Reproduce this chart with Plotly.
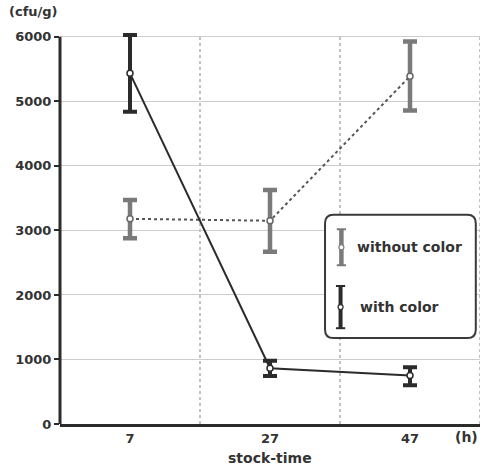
import plotly.graph_objects as go

# ---- data ----
stock_time = [7, 27, 47]
without_mean = [3180, 3150, 5390]
without_hi = [3470, 3625, 5930]
without_lo = [2880, 2670, 4860]
with_mean = [5435, 865, 750]
with_hi = [6030, 980, 880]
with_lo = [4840, 745, 600]
y_ticks = [0, 1000, 2000, 3000, 4000, 5000, 6000]
x_ticks = [7, 27, 47]
x_divisions = [17, 37, 57]
series_names = ["without color", "with color"]

FONT = "DejaVu Sans"
DARK = "#2b2b2b"
GRAY = "#7a7a7a"
TXT = "#333333"

Y_TOP = 6060  # a little headroom so the top error cap is not clipped

fig = go.Figure()

fig.add_trace(go.Scatter(
    x=stock_time, y=without_mean, mode="lines+markers", name=series_names[0],
    line=dict(color="#555555", width=2, dash="dot"),
    marker=dict(symbol="circle", size=6, color="white", line=dict(color="#666666", width=1.5)),
    error_y=dict(type="data", symmetric=False,
                 array=[h - m for h, m in zip(without_hi, without_mean)],
                 arrayminus=[m - l for m, l in zip(without_mean, without_lo)],
                 color=GRAY, thickness=4.5, width=7),
    cliponaxis=False, showlegend=False,
))
fig.add_trace(go.Scatter(
    x=stock_time, y=with_mean, mode="lines+markers", name=series_names[1],
    line=dict(color=DARK, width=2),
    marker=dict(symbol="circle", size=6, color="white", line=dict(color=DARK, width=1.5)),
    error_y=dict(type="data", symmetric=False,
                 array=[h - m for h, m in zip(with_hi, with_mean)],
                 arrayminus=[m - l for m, l in zip(with_mean, with_lo)],
                 color=DARK, thickness=4, width=7),
    cliponaxis=False, showlegend=False,
))

# vertical dotted division lines (up to the 6000 level)
for xv in x_divisions:
    fig.add_shape(type="line", xref="x", yref="y", x0=xv, x1=xv, y0=0, y1=y_ticks[-1],
                  line=dict(color="#9a9a9a", width=1.2, dash="dot"), layer="below")

# y axis line ending at the top tick
fig.add_shape(type="line", xref="paper", yref="y", x0=0, x1=0, y0=0, y1=y_ticks[-1],
              line=dict(color=DARK, width=3), layer="above")

# ---- custom legend box ----
lx0, lx1, ly0, ly1 = 0.631, 0.990, 0.22, 0.535
rx, ry = 0.02, 0.022
path = (f"M {lx0+rx},{ly0} L {lx1-rx},{ly0} Q {lx1},{ly0} {lx1},{ly0+ry} "
        f"L {lx1},{ly1-ry} Q {lx1},{ly1} {lx1-rx},{ly1} L {lx0+rx},{ly1} "
        f"Q {lx0},{ly1} {lx0},{ly1-ry} L {lx0},{ly0+ry} Q {lx0},{ly0} {lx0+rx},{ly0} Z")
fig.add_shape(type="path", xref="paper", yref="paper", path=path,
              line=dict(color="#3a3a3a", width=2), fillcolor="white", layer="above")

def legend_glyph(xc, yc, half, color, thick):
    fig.add_shape(type="line", xref="paper", yref="paper", x0=xc, x1=xc,
                  y0=yc - half, y1=yc + half, line=dict(color=color, width=thick))
    for yy in (yc - half, yc + half):
        fig.add_shape(type="line", xref="paper", yref="paper", x0=xc - 0.011, x1=xc + 0.011,
                      y0=yy, y1=yy, line=dict(color=color, width=2))
    fig.add_shape(type="circle", xref="paper", yref="paper",
                  x0=xc - 0.006, x1=xc + 0.006, y0=yc - 0.0065, y1=yc + 0.0065,
                  line=dict(color=color, width=1.2), fillcolor="white")

legend_glyph(0.670, 0.452, 0.046, GRAY, 4.5)
legend_glyph(0.668, 0.299, 0.054, DARK, 4)

fig.add_annotation(xref="paper", yref="paper", x=0.703, y=0.452, text=series_names[0],
                   showarrow=False, xanchor="left", yanchor="middle",
                   font=dict(family=FONT, size=14, color=TXT, weight="bold"))
fig.add_annotation(xref="paper", yref="paper", x=0.71, y=0.299, text=series_names[1],
                   showarrow=False, xanchor="left", yanchor="middle",
                   font=dict(family=FONT, size=14, color=TXT, weight="bold"))

# axis captions
fig.add_annotation(xref="paper", yref="paper", x=-0.062, y=1.055, text="(cfu/g)",
                   showarrow=False, xanchor="center", yanchor="middle",
                   font=dict(family=FONT, size=13, color=TXT, weight="bold"))
fig.add_annotation(xref="paper", yref="paper", x=0.969, y=-0.033, text="(h)",
                   showarrow=False, xanchor="center", yanchor="middle",
                   font=dict(family=FONT, size=14, color=TXT, weight="bold"))
fig.add_annotation(xref="paper", yref="paper", x=0.5, y=-0.088, text="stock-time",
                   showarrow=False, xanchor="center", yanchor="middle",
                   font=dict(family=FONT, size=14, color=TXT, weight="bold"))

plot_h = 387 * Y_TOP / y_ticks[-1]
fig.update_layout(
    width=483, height=465,
    margin=dict(l=60, r=3, t=round(424 - plot_h), b=41, autoexpand=False),
    paper_bgcolor="white", plot_bgcolor="white",
    font=dict(family=FONT, size=13, color=TXT, weight="bold"),
    xaxis=dict(range=[-3, 57], tickvals=x_ticks, ticktext=[str(v) for v in x_ticks],
               showgrid=False, zeroline=False, showline=True, linecolor=DARK, linewidth=3,
               ticks="", fixedrange=True),
    yaxis=dict(range=[0, Y_TOP], tickvals=y_ticks, showgrid=True, gridcolor="#cccccc",
               gridwidth=1, zeroline=False, showline=False,
               ticks="outside", ticklen=5, tickwidth=2, tickcolor=DARK, fixedrange=True),
)

fig.write_html("out.html", config={"displayModeBar": False},
               post_script="document.body.style.margin='0';document.body.style.overflow='hidden';")
